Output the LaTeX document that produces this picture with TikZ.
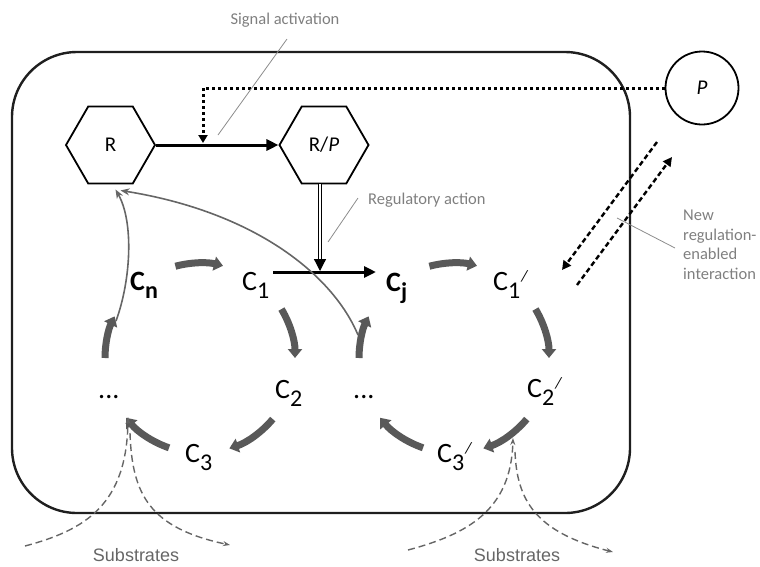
\documentclass[tikz,border=0pt]{standalone}
\usepackage{fontspec}
\setmainfont{Carlito}
\newfontfamily\arialfont{Liberation Sans}
\usetikzlibrary{arrows.meta,shapes.geometric,calc}
\definecolor{cycgray}{HTML}{595959}
\definecolor{txtgray}{HTML}{7F7F7F}
\definecolor{linegray}{HTML}{8C8C8C}
\definecolor{curvegray}{HTML}{666666}
\newcommand{\clab}[1]{C\raisebox{-8pt}{\fontsize{24}{24}\selectfont #1}}
\newcommand{\myprime}{\kern1pt\raisebox{9pt}{\fontsize{16}{16}\selectfont\itshape /}}
\tikzset{
  cell/.style={draw=black!88, line width=2.4pt, rounded corners=65pt},
  hexa/.style={regular polygon, regular polygon sides=6, minimum size=89pt, draw, line width=1.8pt, inner sep=0pt, font=\fontsize{21}{24}\selectfont},
  pcirc/.style={circle, draw, line width=1.8pt, minimum size=73pt, inner sep=0pt, font=\fontsize{21}{24}\selectfont\itshape},
  sigline/.style={line width=3pt, -{Triangle[length=12pt,width=11pt]}},
  dotline/.style={line width=3pt, dash pattern=on 3pt off 3pt, -{Triangle[length=8pt,width=9pt]}},
  regline/.style={double=white, double distance=2.2pt, line width=1.2pt, -{Triangle[length=12pt,width=12pt]}},
  glabel/.style={text=txtgray, inner sep=0pt, font=\fontsize{16.5}{19.5}\selectfont},
  leader/.style={draw=linegray, line width=0.8pt},
  clabel/.style={anchor=base west, inner sep=0pt, font=\fontsize{28}{28}\selectfont},
  cyc/.style={draw=cycgray, line width=7pt, -{Triangle[length=9pt,width=14pt]}},
  thincurve/.style={draw=curvegray, line width=1.6pt, -{Stealth[length=9pt,width=7pt]}},
  subs/.style={draw=curvegray, line width=1.4pt, dash pattern=on 7pt off 4pt, -{Stealth[length=7pt,width=5pt]}},
  subslabel/.style={text=curvegray, inner sep=0pt, font=\arialfont\fontsize{18}{20}\selectfont},
  dblk/.style={draw=black, line width=2.4pt, dash pattern=on 5pt off 3pt, -{Triangle[length=9pt,width=9pt]}}
}
\begin{document}
\begin{tikzpicture}[x=1pt,y=-1pt]
\useasboundingbox (0,0) rectangle (760,566);
% cell
\draw[cell] (12,52) rectangle (630,513);
% receptor nodes
\node[hexa] (R) at (110.5,145) {R};
\node[hexa] (RP) at (324,145) {R/\textit{P}};
\node[pcirc] (P) at (702,88) {P};
\coordinate (sa) at (203,143);
\draw[sigline] (R.east) -- (RP.west);
\draw[dotline] (P.west) -| (sa);
% signal activation label
\node[glabel] (siglab) at (285,20) {Signal activation};
\coordinate (sigtop) at (287,39);
\coordinate (sigpt) at (218,135);
\draw[leader] (sigtop) -- (sigpt);
% regulatory action
\coordinate (ra) at (320,271);
\draw[regline] (RP.south -| ra) -- (ra);
\node[glabel, anchor=west] (reglab) at (368,200) {Regulatory action};
\coordinate (regtop) at (358,198);
\coordinate (regpt) at (328,242);
\draw[leader] (regtop) -- (regpt);
% C1 -> Cj
\coordinate (c1r) at (273,272);
\coordinate (cjl) at (376,272);
\draw[sigline] (c1r) -- (cjl);
% labels cycle 1
\node[clabel, font=\fontsize{28}{28}\selectfont\bfseries] (Cn) at (130,290) {\clab{n}};
\node[clabel] (C1) at (242,290) {\clab{1}};
\node[clabel] (C2) at (275,398) {\clab{2}};
\node[clabel] (C3) at (185,462) {\clab{3}};
\node[clabel] (D1) at (98,398) {...};
% labels cycle 2
\node[clabel, font=\fontsize{28}{28}\selectfont\bfseries] (Cj) at (386,291) {\clab{j}};
\node[clabel] (C1p) at (493,290) {\clab{1}\myprime};
\node[clabel] (C2p) at (527,397) {\clab{2}\myprime};
\node[clabel] (C3p) at (437,462) {\clab{3}\myprime};
\node[clabel] (D2) at (353,398) {...};
% cycle arrows
\coordinate (ca) at (200,358);
\coordinate (cb) at (454,358);
\foreach \cc in {ca,cb}{
  \draw[cyc] ($(\cc)+(-105:95)$) arc[start angle=-105, end angle=-76, radius=95];
  \draw[cyc] ($(\cc)+(-31:95)$) arc[start angle=-31, end angle=0, radius=95];
  \draw[cyc] ($(\cc)+(40:95)$) arc[start angle=40, end angle=72, radius=95];
  \draw[cyc] ($(\cc)+(109:95)$) arc[start angle=109, end angle=141, radius=95];
  \draw[cyc] ($(\cc)+(180:95)$) arc[start angle=180, end angle=206, radius=95];
}
% feedback curves to R
\coordinate (fb1) at (116,321);
\coordinate (fb2) at (358,335);
\draw[thincurve] (fb1) .. controls (131,280) and (134,222) .. ([xshift=5pt,yshift=-5pt]R.south);
\draw[thincurve] (fb2) .. controls (333,275) and (255,212) .. ([xshift=10pt,yshift=-6pt]R.south);
% new regulation-enabled interaction
\coordinate (na1) at (657,142);
\coordinate (na2) at (562,270);
\coordinate (nb1) at (577,285);
\coordinate (nb2) at (672,157);
\draw[dblk] (na1) -- (na2);
\draw[dblk] (nb1) -- (nb2);
\node[glabel, anchor=north west, align=left] (newlab) at (683,210) {New\\regulation-\\enabled\\interaction};
\coordinate (nlt) at (675,248);
\coordinate (nlp) at (617,218);
\draw[leader] (nlt) -- (nlp);
% substrates
\coordinate (sl1) at (25,546);
\coordinate (sl2) at (128,417);
\coordinate (sl3) at (130,433);
\coordinate (sl4) at (230,545);
\draw[subs] (sl1) .. controls (85,530) and (127,505) .. (sl2);
\draw[subs] (sl3) .. controls (132,495) and (150,528) .. (sl4);
\node[subslabel] (sub1) at (136,555) {Substrates};
\coordinate (sr1) at (408,550);
\coordinate (sr2) at (513,438);
\coordinate (sr3) at (515,452);
\coordinate (sr4) at (613,552);
\draw[subs] (sr1) .. controls (468,534) and (511,510) .. (sr2);
\draw[subs] (sr3) .. controls (517,500) and (535,532) .. (sr4);
\node[subslabel] (sub2) at (517,555) {Substrates};
\end{tikzpicture}
\end{document}
